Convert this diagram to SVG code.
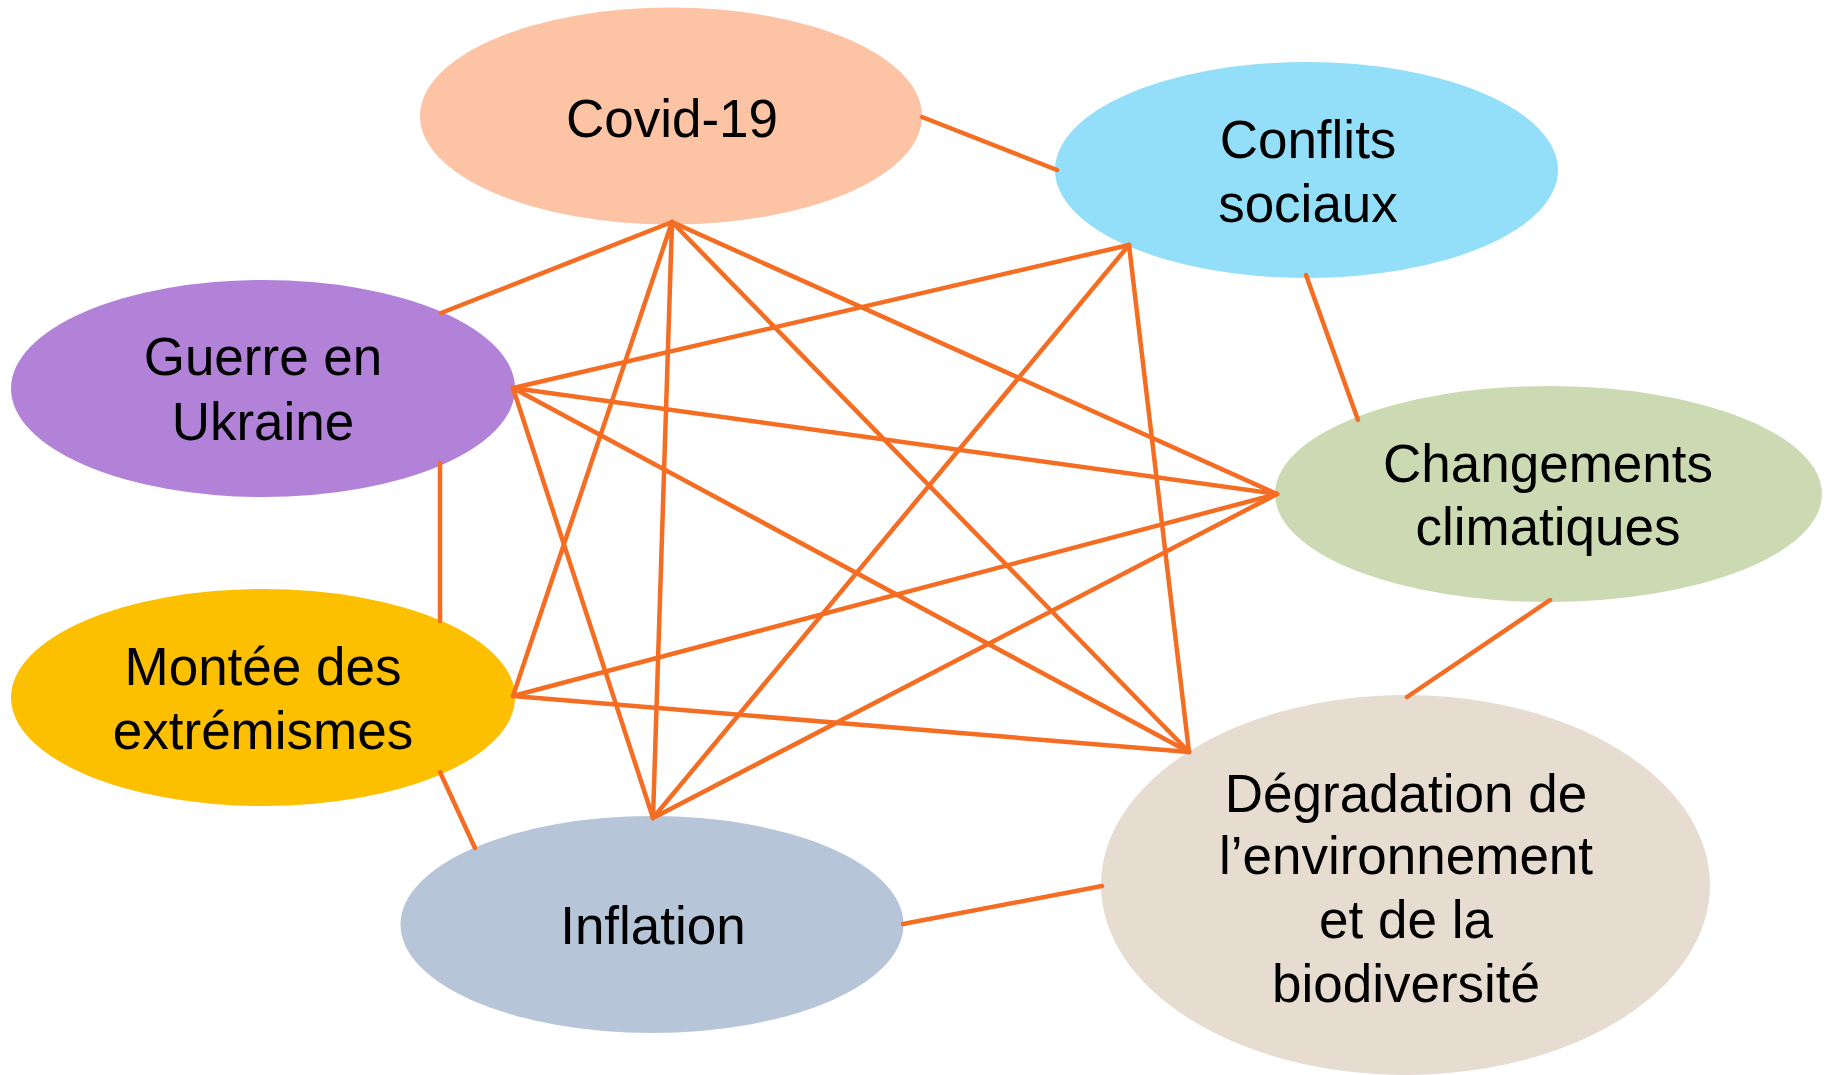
<svg xmlns="http://www.w3.org/2000/svg" width="1833" height="1075" viewBox="0 0 1833 1075">
<style>
text{font-family:"Liberation Sans",Arial,Helvetica,sans-serif;font-size:53px;fill:#000;text-anchor:middle}
.c line{stroke:#F46D22;stroke-width:4.5;stroke-linecap:round}
</style>
<rect width="1833" height="1075" fill="#fff"/>
<g id="covid"><ellipse cx="671" cy="116" rx="251" ry="108.5" fill="#FCC3A4"/><text x="672" y="137">Covid-19</text></g>
<g id="conflits"><ellipse cx="1306.5" cy="170" rx="251.5" ry="108" fill="#93DEF8"/><text x="1308" y="158">Conflits</text><text x="1308" y="222">sociaux</text></g>
<g id="guerre"><ellipse cx="263" cy="388.5" rx="252" ry="108.5" fill="#B282D9"/><text x="263" y="375">Guerre en</text><text x="263" y="440">Ukraine</text></g>
<g id="changements"><ellipse cx="1548.5" cy="494" rx="273.5" ry="108" fill="#CCDAB4"/><text x="1548" y="482">Changements</text><text x="1548" y="545">climatiques</text></g>
<g id="montee"><ellipse cx="263" cy="697.5" rx="252" ry="108.5" fill="#FDC000"/><text x="263" y="685">Montée des</text><text x="263" y="748.5">extrémismes</text></g>
<g id="inflation"><ellipse cx="652" cy="924.5" rx="251.5" ry="108.5" fill="#B6C5D8"/><text x="653" y="944">Inflation</text></g>
<g id="degradation"><ellipse cx="1405.5" cy="885" rx="304.5" ry="190" fill="#E6DCD0"/><text x="1406" y="811.5">Dégradation de</text><text x="1406" y="874">l’environnement</text><text x="1406" y="938">et de la</text><text x="1406" y="1001.5">biodiversité</text></g>
<g id="connectors" class="c">
<line x1="672" y1="222" x2="441" y2="313"/>
<line x1="672" y1="222" x2="513" y2="696"/>
<line x1="672" y1="222" x2="653" y2="818"/>
<line x1="672" y1="222" x2="1189" y2="752"/>
<line x1="672" y1="222" x2="1277" y2="494"/>
<line x1="1129" y1="245" x2="513" y2="388"/>
<line x1="1129" y1="245" x2="653" y2="818"/>
<line x1="1129" y1="245" x2="1189" y2="752"/>
<line x1="513" y1="388" x2="1277" y2="494"/>
<line x1="513" y1="388" x2="1189" y2="752"/>
<line x1="513" y1="388" x2="653" y2="818"/>
<line x1="513" y1="696" x2="1277" y2="494"/>
<line x1="513" y1="696" x2="1189" y2="752"/>
<line x1="653" y1="818" x2="1277" y2="494"/>
<line x1="922" y1="117" x2="1057" y2="170"/>
<line x1="1306" y1="275" x2="1358" y2="420"/>
<line x1="1550" y1="600" x2="1407" y2="697"/>
<line x1="903" y1="924" x2="1102" y2="886"/>
<line x1="440" y1="772" x2="475" y2="848"/>
<line x1="440" y1="463" x2="440" y2="621"/>
</g>
</svg>
